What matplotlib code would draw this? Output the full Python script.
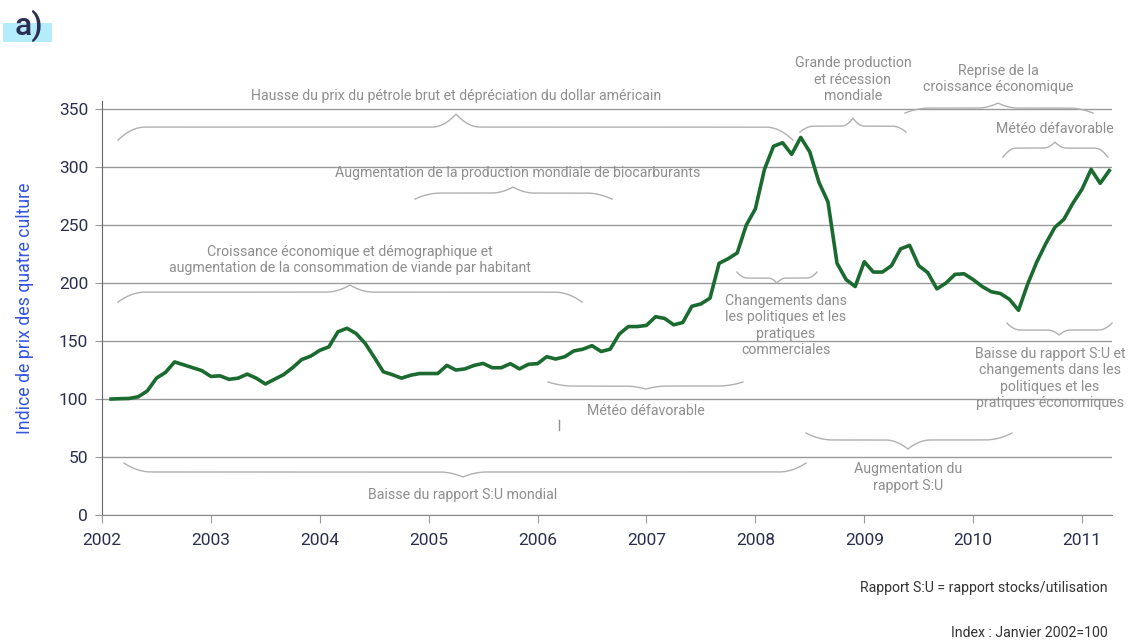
import matplotlib
matplotlib.use("Agg")
import matplotlib.pyplot as plt
import numpy as np
from matplotlib.patches import Rectangle

plt.rcParams['font.family'] = ['Roboto', 'DejaVu Sans']

# ---- data: monthly index, Jan 2002 .. Mar 2011 (Jan 2002 = 100)
start_year = 2002
values = [
    100, 100.3, 100.5, 102, 107, 118, 123, 132, 129.5, 127, 124.5, 119.5,      # 2002
    120, 117, 118, 121.5, 118, 113, 117, 121, 127, 134, 137, 142,              # 2003
    145, 158, 161, 156.5, 148, 136, 123.5, 121, 118, 120.5, 122, 122,          # 2004
    122, 129, 125, 126, 129, 130.7, 127, 127, 130.5, 126, 130, 130.5,          # 2005
    136.5, 134.5, 136.5, 141.5, 143, 146, 141, 143, 156, 162.5, 162.5, 163.5,  # 2006
    171, 169.5, 164, 166, 180, 182, 187, 217, 221, 226, 250, 264,              # 2007
    298, 318, 321, 311, 325.6, 313, 287, 270, 217, 203, 197, 218.4,            # 2008
    209.5, 209.5, 215, 229.5, 232.5, 215, 209, 195, 200, 207.5, 208, 203,      # 2009
    197, 192.5, 191, 186, 176.5, 199, 218, 234, 248, 255, 269, 281,            # 2010
    298, 286, 297,                                                             # 2011
]
year_ticks = list(range(2002, 2012))
y_ticks = [0, 50, 100, 150, 200, 250, 300, 350]

# annotation labels and brace geometry (x0, x1, x_tip, y_end, y_body, y_tip), text position
annotations = [
    ("Hausse du prix du pétrole brut et dépréciation du dollar américain",
     (2002.147, 2008.345, 2005.251, 323.3, 334.5, 345.7), (2005.25, 361.2)),
    ("Augmentation de la production mondiale de biocarburants",
     (2004.874, 2006.683, 2005.774, 272.4, 277.6, 282.8), (2005.82, 294.8)),
    ("Croissance économique et démographique et\naugmentation de la consommation de viande par habitant",
     (2002.147, 2006.408, 2004.277, 183.6, 192.2, 198.3), (2004.277, 219.8)),
    ("Grande production\net récession\nmondiale",
     (2008.41, 2009.383, 2008.896, 330.2, 335.3, 342.2), (2008.896, 375.4)),
    ("Reprise de la\ncroissance économique",
     (2009.374, 2011.10, 2010.228, 346.6, 350.9, 355.2), (2010.228, 376.3)),
    ("Météo défavorable",
     (2010.274, 2011.238, 2010.751, 308.6, 316.4, 321.6), (2010.751, 332.8)),
    ("Changements dans\nles politiques et les\npratiques\ncommerciales",
     (2007.831, 2008.566, 2008.198, 209.5, 204.3, 200.0), (2008.281, 163.4)),
    ("Baisse du rapport S:U et\nchangements dans les\npolitiques et les\npratiques économiques",
     (2010.31, 2011.275, 2010.788, 165.5, 159.5, 155.2), (2010.705, 117.7)),
    ("Météo défavorable",
     (2006.096, 2007.886, 2006.995, 114.7, 111.2, 108.6), (2006.995, 89.7)),
    ("Augmentation du\nrapport S:U",
     (2008.465, 2010.356, 2009.401, 70.7, 64.7, 56.9), (2009.401, 32.3)),
    ("Baisse du rapport S:U mondial",
     (2002.202, 2008.465, 2005.315, 44.8, 37.1, 32.8), (2005.315, 17.2)),
]

LINE_C = "#1b6a30"
GRID_C = "#9a9a9a"
ANN_C = "#8e8e8e"
BRACE_C = "#b0b0b0"
TICK_C = "#2a2f4e"

fig = plt.figure(figsize=(11.28, 6.43), dpi=100)
ax = fig.add_axes([102/1128, (643-515)/643, (1112-102)/1128, (515-101)/643])

x = [start_year + (i + 1) / 12 for i in range(len(values))]
ax.plot(x, values, color=LINE_C, lw=2.6, solid_joinstyle="round", zorder=5)

ax.set_xlim(2002, 2011.275)
ax.set_ylim(0, 357)
ax.set_xticks(year_ticks)
ax.set_xticklabels([str(y) for y in year_ticks])
ax.set_yticks(y_ticks)
ax.yaxis.grid(True, color=GRID_C, lw=1.0)
ax.set_axisbelow(True)
for s in ["top", "right"]:
    ax.spines[s].set_visible(False)
ax.spines["left"].set_color("#666666")
ax.spines["bottom"].set_color("#888888")
ax.tick_params(axis="x", colors=GRID_C, labelcolor=TICK_C, labelsize=12.5, length=6, pad=7)
ax.tick_params(axis="y", colors=GRID_C, labelcolor=TICK_C, labelsize=12.5, length=5, pad=5)
fig.text(25/1128, 1 - 308/643, "Indice de prix des quatre culture", color="#3454e0", fontsize=12.8,
         rotation=90, ha="center", va="center")


def brace(ax, x0, x1, xt, ye, yb, yt):
    span = x1 - x0
    curl = min(0.25, span * 0.13)
    tipw = min(0.22, span * 0.11)
    pts_x, pts_y = [], []
    for side in (0, 1):
        a, b = (x0, xt) if side == 0 else (x1, xt)
        n = 150
        xs = np.linspace(a, b, n)
        d = np.abs(xs - a)
        L = abs(b - a)
        h1 = 1 - (1 - np.clip(d / curl, 0, 1)) ** 2
        h2 = np.clip((d - (L - tipw)) / tipw, 0, 1) ** 2
        ys = ye + (yb - ye) * h1 + (yt - yb) * h2
        if side == 0:
            pts_x += list(xs); pts_y += list(ys)
        else:
            pts_x += list(xs[::-1]); pts_y += list(ys[::-1])
    ax.plot(pts_x, pts_y, color=BRACE_C, lw=1.0, clip_on=False, zorder=3)


for label, geom, tpos in annotations:
    brace(ax, *geom)
    ax.text(tpos[0], tpos[1], label, ha="center", va="center", color=ANN_C,
            fontsize=10.2, linespacing=1.2, clip_on=False, zorder=4)

# small stray tick mark under "Météo défavorable"
ax.plot([2006.197, 2006.197], [73.3, 81.9], color=ANN_C, lw=1.0, clip_on=False)

# panel label
fig.patches.append(Rectangle((3/1128, 1 - 42/643), 49/1128, 19/643, transform=fig.transFigure,
                             facecolor="#b5ecfb", edgecolor="none", zorder=0))
fig.text(29/1128, 1 - 26/643, "a)", ha="center", va="center", fontsize=23, color="#2b2f55",
         fontweight="medium", zorder=2)

fig.text(1108/1128, 1 - 588/643, "Rapport S:U = rapport stocks/utilisation", ha="right", va="center",
         fontsize=10.2, color="#333333")
fig.text(1108/1128, 1 - 633/643, "Index : Janvier 2002=100", ha="right", va="center",
         fontsize=10.2, color="#333333")

fig.savefig("out.png", dpi=100)
